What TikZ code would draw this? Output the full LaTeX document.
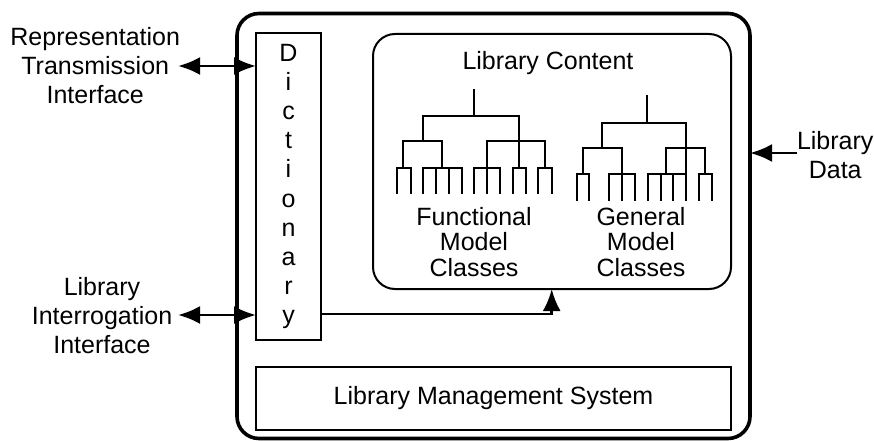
\documentclass[tikz,border=0pt]{standalone}
\usepackage{fontspec}
\setmainfont{Liberation Sans}
\usetikzlibrary{arrows.meta}
\begin{document}
\begin{tikzpicture}[x=1pt,y=-1pt,
  every node/.style={inner sep=0pt,outer sep=0pt,font=\fontsize{25}{29}\selectfont},
  outerbox/.style={draw,line width=3.6pt,rounded corners=22pt},
  innerbox/.style={draw,line width=2pt},
  treeline/.style={line width=2.1pt,line cap=rect},
  conn/.style={line width=2.8pt},
  arrhead/.tip={Latex[length=22pt,width=18pt]}]
\useasboundingbox (0,0) rectangle (874,441);
% boxes
\node[outerbox,minimum width=513pt,minimum height=425pt] (outer) at (493.5,226) {};
\node[innerbox,minimum width=65pt,minimum height=307pt,align=center,
      font=\fontsize{25}{29.2}\selectfont] (dict) at (288.5,186.5)
  {D\\i\\c\\t\\i\\o\\n\\a\\r\\y};
\node[innerbox,rounded corners=22pt,minimum width=358pt,minimum height=255pt] (content) at (552,161.5) {};
\node[innerbox,minimum width=475pt,minimum height=63pt] (lms) at (493.5,398.5) {Library Management System};
% texts
\node (title) at (548,63) {Library Content};
\node[align=center,font=\fontsize{25}{25.5}\selectfont] (func) at (474,242) {Functional\\Model\\Classes};
\node[align=center,font=\fontsize{25}{25.5}\selectfont] (gen) at (641,242) {General\\Model\\Classes};
\node[align=center,anchor=east] (rti) at (180,66) {Representation\\Transmission\\Interface};
\node[align=center] (lii) at (102,316) {Library\\Interrogation\\Interface};
\node[align=center,anchor=west] (ldata) at (797,155) {Library\\Data};
% connectors
\coordinate (rtiend) at (178,66);
\coordinate (liiend) at (178,315);
\coordinate (ldend) at (797,153);
\draw[conn,{arrhead}-{arrhead}] (rtiend) -- (dict.west |- rtiend);
\draw[conn,{arrhead}-{arrhead}] (liiend) -- (dict.west |- liiend);
\draw[conn,-{arrhead}] (ldend) -- (outer.east |- ldend);
\coordinate (dout) at (dict.east |- 0,314);
\coordinate (cin) at (551.7,0);
\draw[conn,-{arrhead}] (dout) -| (cin |- content.south);
% tree 1
\draw[treeline] (474.3,90) -- (474.3,116)
  (422.7,116) -- (519,116)
  (422.7,116) -- (422.7,141.3)
  (402.7,141.3) -- (442,141.3)
  (402.7,141.3) -- (402.7,167.7)
  (442,141.3) -- (442,167.7)
  (396.7,167.7) -- (410.7,167.7)
  (422.7,167.7) -- (461.7,167.7)
  (519,116) -- (519,167.7)
  (486.7,141.3) -- (545,141.3)
  (486.7,141.3) -- (486.7,167.7)
  (545,141.3) -- (545,167.7)
  (474,167.7) -- (500,167.7)
  (512.7,167.7) -- (525.7,167.7)
  (538.3,167.7) -- (551.7,167.7);
\foreach \x in {396.7,410.7,422.7,436,449,461.7,474,486.7,500,512.7,525.7,538.3,551.7}
  \draw[treeline] (\x,167.7) -- (\x,193);
% tree 2
\draw[treeline] (647.3,96) -- (647.3,122.7)
  (602.3,122.7) -- (686,122.7)
  (602.3,122.7) -- (602.3,148)
  (686,122.7) -- (686,174)
  (582.7,148) -- (621.7,148)
  (582.7,148) -- (582.7,174)
  (621.7,148) -- (621.7,174)
  (666,148) -- (705.3,148)
  (666,148) -- (666,174)
  (705.3,148) -- (705.3,174)
  (576.7,174) -- (589.3,174)
  (609,174) -- (635,174)
  (648,174) -- (686,174)
  (698.7,174) -- (711.7,174);
\foreach \x in {576.7,589.3,609,621.7,635,648,660.7,673.3,686,698.7,711.7}
  \draw[treeline] (\x,174) -- (\x,200);
\end{tikzpicture}
\end{document}
